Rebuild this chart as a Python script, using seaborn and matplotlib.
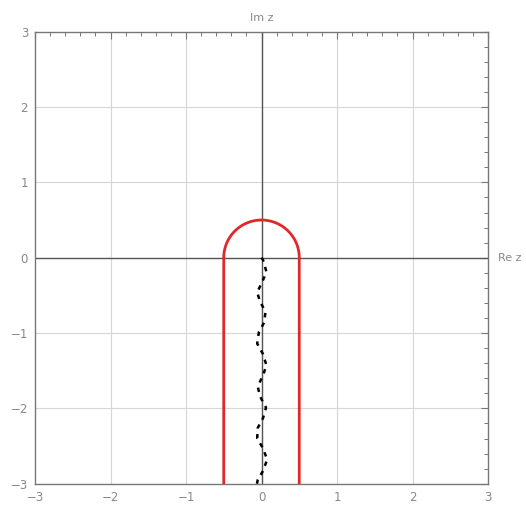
import numpy as np
import pandas as pd
import seaborn as sns
import matplotlib.pyplot as plt
from matplotlib.ticker import MultipleLocator

# contour: two vertical sides joined by a half circle on top
half_width = 0.5
contour_bottom = -3.0

# dotted wavy path
wave_y = [0.0, -0.03, -0.19, -0.32, -0.46, -0.58, -0.72, -0.86, -0.99, -1.14,
          -1.28, -1.43, -1.56, -1.71, -1.84, -1.99, -2.13, -2.26, -2.40, -2.53,
          -2.68, -2.83, -2.95, -3.0]
wave_x = [0.0, 0.02, 0.066, 0.01, -0.057, -0.02, 0.053, 0.035, -0.035, -0.057,
          0.02, 0.066, 0.02, -0.05, -0.02, 0.06, 0.02, -0.05, -0.057, 0.02,
          0.075, 0.02, -0.05, -0.06]

tick_values = [-3, -2, -1, 0, 1, 2, 3]
tick_labels = ['\u22123', '\u22122', '\u22121', '0', '1', '2', '3']

sns.set_theme(style="white")
plt.rcParams['font.family'] = ['DejaVu Sans']

theta = np.linspace(np.pi, 0, 100)
cx = np.concatenate([[-half_width], half_width * np.cos(theta), [half_width]])
cy = np.concatenate([[contour_bottom], half_width * np.sin(theta), [contour_bottom]])
contour_df = pd.DataFrame({'x': cx, 'y': cy})
wave_df = pd.DataFrame({'x': wave_x, 'y': wave_y})

fig = plt.figure(figsize=(5.26, 5.07), dpi=100)
ax = fig.add_axes([35 / 526, 1 - 483.7 / 507, 453 / 526, 452 / 507])

for t in tick_values[1:-1]:
    ax.axvline(t, color='#d6d6d6', lw=0.8, zorder=0)
    ax.axhline(t, color='#d6d6d6', lw=0.8, zorder=0)
ax.axvline(0, color='#555555', lw=1.0, zorder=1)
ax.axhline(0, color='#555555', lw=1.0, zorder=1)

sns.lineplot(data=contour_df, x='x', y='y', sort=False, estimator=None,
             color='#e02828', lw=2.0, ax=ax, zorder=3)
sns.lineplot(data=wave_df, x='x', y='y', sort=False, estimator=None,
             color='black', lw=1.8, ax=ax, zorder=4, linestyle=(0, (1.8, 2.2)))

ax.set_xlim(-3, 3)
ax.set_ylim(-3, 3)
ax.set_xticks(tick_values)
ax.set_yticks(tick_values)
ax.set_xticklabels(tick_labels)
ax.set_yticklabels(tick_labels)
ax.xaxis.set_minor_locator(MultipleLocator(0.2))
ax.yaxis.set_minor_locator(MultipleLocator(0.2))
ax.tick_params(which='both', direction='in', top=True, right=True,
               color='#777777', labelcolor='#888888', labelsize=8.5)
ax.tick_params(which='major', length=5, width=0.8, pad=5)
ax.tick_params(which='minor', length=3, width=0.7)
ax.set_xlabel('')
ax.set_ylabel('')
for sp in ax.spines.values():
    sp.set_color('#777777')
    sp.set_linewidth(1.0)

ax.text(0, 3.12, 'Im z', ha='center', va='bottom', fontsize=8, color='#888888')
ax.text(3.13, 0, 'Re z', ha='left', va='center', fontsize=8, color='#888888',
        clip_on=False)

fig.savefig('out.png', dpi=100)
